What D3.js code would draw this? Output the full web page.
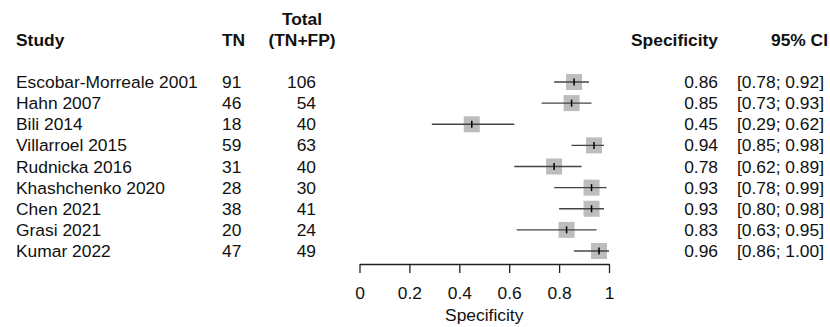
<!DOCTYPE html>
<html><head><meta charset="utf-8">
<script src="https://cdn.jsdelivr.net/npm/d3@7"></script>
<style>body{margin:0;background:#fff}svg{display:block}text{font-family:"Liberation Sans",Arial,Helvetica,sans-serif;fill:#111}</style>
</head><body>
<script>
const studies = ["Escobar-Morreale 2001","Hahn 2007","Bili 2014","Villarroel 2015","Rudnicka 2016","Khashchenko 2020","Chen 2021","Grasi 2021","Kumar 2022"];
const tn = [91,46,18,59,31,28,38,20,47];
const total = [106,54,40,63,40,30,41,24,49];
const spec = [0.86,0.85,0.45,0.94,0.78,0.93,0.93,0.83,0.96];
const lower = [0.78,0.73,0.29,0.85,0.62,0.78,0.80,0.63,0.86];
const upper = [0.92,0.93,0.62,0.98,0.89,0.99,0.98,0.95,1.00];
const ticks = [0,0.2,0.4,0.6,0.8,1];
const tickLabels = ["0","0.2","0.4","0.6","0.8","1"];

const W=830,H=327,FS=17.4;
const svg=d3.select("body").append("svg").attr("width",W).attr("height",H);
const x=d3.scaleLinear().domain([0,1]).range([359.5,609]);
const y=d3.scalePoint().domain(studies).range([82,251]);

// headers
const hdr=svg.append("g").attr("font-weight","bold").attr("font-size",FS);
hdr.append("text").attr("x",16).attr("y",46).text("Study");
hdr.append("text").attr("x",222).attr("y",46).text("TN");
hdr.append("text").attr("x",302).attr("y",25).attr("text-anchor","middle").text("Total");
hdr.append("text").attr("x",302).attr("y",46).attr("text-anchor","middle").text("(TN+FP)");
hdr.append("text").attr("x",718).attr("y",46).attr("text-anchor","end").text("Specificity");
hdr.append("text").attr("x",828).attr("y",46).attr("text-anchor","end").text("95% CI");

const rows=svg.append("g").attr("font-size",FS).selectAll("g").data(studies).join("g")
  .attr("transform",d=>`translate(0,${y(d)})`);
rows.append("text").attr("x",16).attr("y",6).text(d=>d);
rows.append("text").attr("x",222).attr("y",6).text((d,i)=>tn[i]);
rows.append("text").attr("x",316).attr("y",6).attr("text-anchor","end").text((d,i)=>total[i]);
rows.append("text").attr("x",718).attr("y",6).attr("text-anchor","end").text((d,i)=>spec[i].toFixed(2));
rows.append("text").attr("x",824).attr("y",6).attr("text-anchor","end").text((d,i)=>`[${lower[i].toFixed(2)}; ${upper[i].toFixed(2)}]`);

// marks
const S=16;
rows.append("rect").attr("x",(d,i)=>x(spec[i])-S/2).attr("y",-S/2).attr("width",S).attr("height",S).attr("fill","#bdbdbd");
rows.append("line").attr("x1",(d,i)=>x(lower[i])).attr("x2",(d,i)=>x(upper[i])).attr("y1",0).attr("y2",0)
  .attr("stroke","#444").attr("stroke-width",1.4);
rows.append("line").attr("x1",(d,i)=>x(spec[i])).attr("x2",(d,i)=>x(spec[i])).attr("y1",-3.5).attr("y2",3.5)
  .attr("stroke","#000").attr("stroke-width",1.5);

// axis
const ax=svg.append("g").attr("transform","translate(0,264)")
  .call(d3.axisBottom(x).tickValues(ticks).tickFormat((d,i)=>tickLabels[i]).tickSize(9).tickPadding(14).tickSizeOuter(0));
ax.select(".domain").attr("stroke","#222").attr("stroke-width",1.3);
ax.selectAll(".tick line").attr("stroke","#222").attr("stroke-width",1.3);
ax.selectAll(".tick text").attr("font-size",FS).attr("font-family","Liberation Sans, Arial, sans-serif").attr("fill","#111");
svg.append("text").attr("x",x(0.5)).attr("y",321).attr("text-anchor","middle").attr("font-size",FS).text("Specificity");
</script>
</body></html>
